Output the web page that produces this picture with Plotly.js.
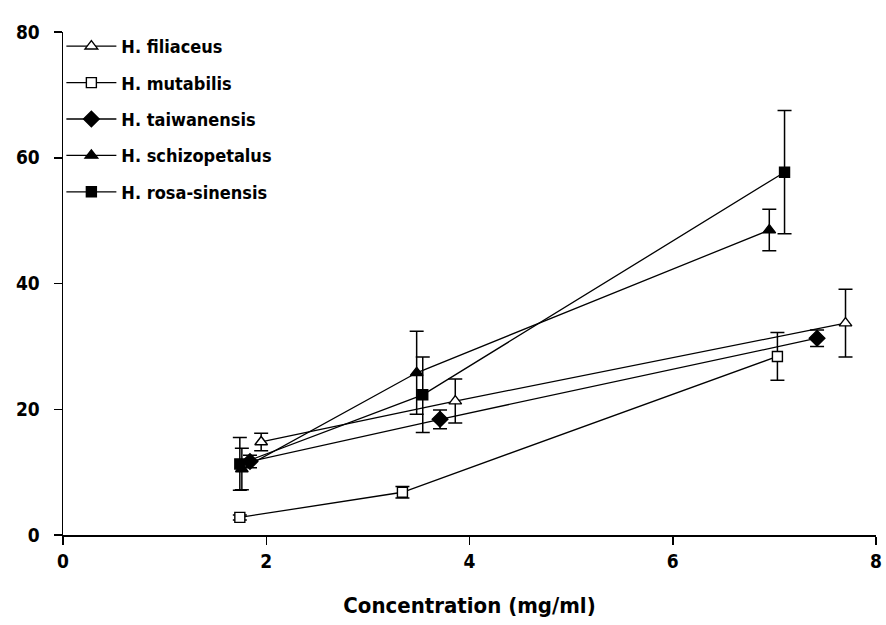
<!DOCTYPE html>
<html>
<head>
<meta charset="utf-8">
<script src="https://cdn.plot.ly/plotly-3.0.1.min.js"></script>
<style>html,body{margin:0;padding:0;background:#fff;}#chart{width:886px;height:625px;}</style>
</head>
<body>
<div id="chart"></div>
<script>
const seriesNames = ["H. filiaceus", "H. mutabilis", "H. taiwanensis", "H. schizopetalus", "H. rosa-sinensis"];
const filiaceusX = [1.95, 3.86, 7.70];
const filiaceusY = [14.8, 21.3, 33.7];
const filiaceusErr = [1.4, 3.5, 5.4];
const mutabilisX = [1.74, 3.34, 7.03];
const mutabilisY = [2.8, 6.8, 28.4];
const mutabilisErr = [0.4, 0.9, 3.8];
const taiwanensisX = [1.84, 3.71, 7.42];
const taiwanensisY = [11.7, 18.4, 31.3];
const taiwanensisErr = [1.0, 1.5, 1.3];
const schizopetalusX = [1.76, 3.48, 6.95];
const schizopetalusY = [10.5, 25.8, 48.5];
const schizopetalusErr = [3.3, 6.6, 3.3];
const rosaX = [1.74, 3.54, 7.10];
const rosaY = [11.3, 22.3, 57.7];
const rosaErr = [4.2, 6.0, 9.8];
const xTicks = [0, 2, 4, 6, 8];
const yTicks = [0, 20, 40, 60, 80];

const fontFam = "'DejaVu Sans Condensed', 'Liberation Sans', Arial, sans-serif";

function mk(name, x, y, err, symbol, fill, size) {
  return {
    type: 'scatter', mode: 'lines+markers', name: name, x: x, y: y,
    legendgroup: name,
    line: {color: '#000', width: 1.3},
    marker: {symbol: symbol, size: size, color: fill, line: {color: '#000', width: 1.4}},
    error_y: {type: 'data', array: err, visible: true, color: '#000', thickness: 1.5, width: 7}
  };
}

const data = [
  mk(seriesNames[0], filiaceusX, filiaceusY, filiaceusErr, 'triangle-up', '#fff', 11),
  mk(seriesNames[1], mutabilisX, mutabilisY, mutabilisErr, 'square', '#fff', 10),
  mk(seriesNames[2], taiwanensisX, taiwanensisY, taiwanensisErr, 'diamond', '#000', 12),
  mk(seriesNames[3], schizopetalusX, schizopetalusY, schizopetalusErr, 'triangle-up', '#000', 11),
  mk(seriesNames[4], rosaX, rosaY, rosaErr, 'square', '#000', 10)
];

const layout = {
  width: 886, height: 625,
  margin: {l: 63, r: 10, t: 32, b: 90},
  paper_bgcolor: '#fff', plot_bgcolor: '#fff',
  showlegend: true,
  legend: {
    x: -0.002, y: 1.008, xanchor: 'left', yanchor: 'top',
    bgcolor: 'rgba(0,0,0,0)', borderwidth: 0,
    font: {family: fontFam, size: 18, color: '#000', weight: 'bold'},
    tracegroupgap: 10, itemwidth: 50
  },
  xaxis: {
    range: [0, 8], tickvals: xTicks, ticktext: xTicks.map(String),
    showgrid: false, zeroline: false, showline: true, linecolor: '#000', linewidth: 1.5,
    ticks: 'outside', ticklen: 8, tickwidth: 1.5, tickcolor: '#000', ticklabelstandoff: 1,
    tickfont: {family: fontFam, size: 19, color: '#000', weight: 'bold'},
    title: {text: 'Concentration (mg/ml)', font: {family: fontFam, size: 22, color: '#000', weight: 'bold'}, standoff: 26}
  },
  yaxis: {
    range: [0, 80], tickvals: yTicks, ticktext: yTicks.map(String),
    showgrid: false, zeroline: false, showline: true, linecolor: '#000', linewidth: 1.5,
    ticks: 'outside', ticklen: 8, tickwidth: 1.5, tickcolor: '#000', ticklabelstandoff: 10,
    tickfont: {family: fontFam, size: 19, color: '#000', weight: 'bold'}
  }
};

Plotly.newPlot('chart', data, layout, {displayModeBar: false, staticPlot: true});
</script>
</body>
</html>
